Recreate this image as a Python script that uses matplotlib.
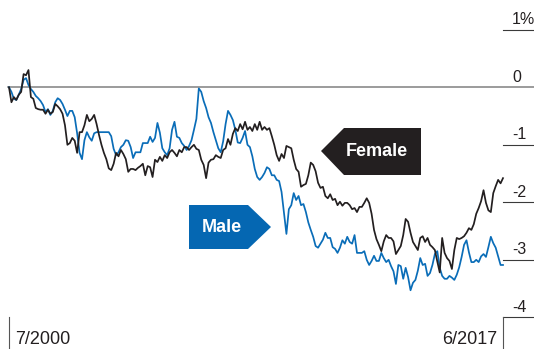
import numpy as np
import matplotlib
matplotlib.use("Agg")
import matplotlib.pyplot as plt
import matplotlib.transforms as mtransforms
from matplotlib.patches import Polygon

# Odchylenie (w pp.) – miesięcznie od 7/2000 do 6/2017
female = [
    0.00, -0.26, -0.17, -0.22, -0.13, -0.08, 0.23, 0.21, 0.30, -0.17,
    -0.20, -0.36, -0.38, -0.39, -0.39, -0.46, -0.39, -0.46, -0.43, -0.29,
    -0.33, -0.38, -0.46, -0.66, -1.00, -0.97, -0.88, -0.93, -1.14, -0.78,
    -0.78, -0.66, -0.48, -0.59, -0.55, -0.48, -0.64, -0.83, -1.00, -1.14,
    -1.25, -1.41, -1.44, -1.33, -1.14, -1.20, -1.09, -1.16, -1.25, -1.47,
    -1.42, -1.42, -1.44, -1.40, -1.37, -1.33, -1.53, -1.37, -1.39, -1.56,
    -1.26, -1.30, -1.21, -1.28, -1.18, -1.23, -1.13, -1.09, -1.14, -1.20,
    -1.09, -1.13, -1.04, -1.04, -1.09, -1.04, -1.00, -1.07, -1.09, -1.26,
    -1.35, -1.58, -1.31, -1.26, -1.25, -1.18, -1.21, -1.23, -1.09, -1.06,
    -0.90, -1.00, -0.81, -0.71, -0.76, -0.64, -0.73, -0.60, -0.74, -0.69,
    -0.76, -0.64, -0.74, -0.60, -0.74, -0.69, -0.74, -0.71, -0.85, -1.00,
    -1.18, -1.28, -1.16, -1.23, -1.02, -1.04, -1.06, -1.26, -1.42, -1.47,
    -1.73, -1.70, -1.68, -1.53, -1.31, -1.35, -1.46, -1.66, -1.75, -1.73,
    -1.89, -1.93, -1.86, -1.96, -1.94, -2.05, -1.99, -2.06, -2.01, -2.01,
    -2.05, -2.12, -2.10, -2.17, -2.08, -2.08, -2.01, -1.93, -2.01, -2.20,
    -2.48, -2.64, -2.74, -2.85, -2.68, -2.57, -2.62, -2.62, -2.68, -2.90,
    -2.83, -2.76, -2.57, -2.29, -2.34, -2.53, -2.69, -2.76, -2.83, -2.62,
    -2.59, -2.69, -2.62, -2.74, -2.78, -2.83, -3.03, -3.22, -2.62, -2.88,
    -2.97, -3.02, -3.16, -2.83, -2.62, -2.64, -2.62, -2.59, -2.53, -2.45,
    -2.48, -2.38, -2.20, -2.10, -1.98, -1.79, -2.01, -2.14, -2.17, -1.84,
    -1.72, -1.61, -1.67, -1.58,
]

male = [
    0.00, -0.08, -0.20, -0.22, -0.13, -0.03, 0.13, 0.16, 0.04, -0.03,
    -0.08, -0.15, -0.19, -0.24, -0.31, -0.43, -0.38, -0.48, -0.41, -0.26,
    -0.19, -0.22, -0.29, -0.39, -0.50, -0.41, -0.41, -0.52, -0.80, -1.14,
    -1.25, -0.92, -0.78, -0.87, -0.93, -0.80, -0.78, -0.78, -0.78, -0.78,
    -0.78, -0.78, -0.85, -1.07, -1.18, -1.13, -1.04, -1.00, -0.92, -0.93,
    -1.04, -1.23, -1.13, -1.13, -1.13, -0.97, -0.97, -0.97, -0.86, -0.95,
    -0.88, -0.62, -0.79, -1.06, -1.13, -1.18, -1.06, -0.74, -0.60, -0.86,
    -0.88, -0.97, -1.02, -1.09, -1.02, -0.92, -0.74, -0.55, -0.02, -0.08,
    -0.24, -0.36, -0.52, -0.62, -0.78, -0.92, -1.06, -1.13, -0.94, -0.64,
    -0.41, -0.48, -0.57, -0.74, -0.96, -0.97, -0.88, -0.76, -1.00, -1.04,
    -1.20, -1.42, -1.56, -1.61, -1.56, -1.49, -1.39, -1.42, -1.53, -1.53,
    -1.61, -1.63, -1.82, -2.19, -2.55, -2.12, -2.05, -1.84, -1.96, -1.89,
    -2.05, -2.03, -2.17, -2.35, -2.48, -2.60, -2.76, -2.79, -2.72, -2.65,
    -2.53, -2.62, -2.62, -2.78, -2.81, -2.88, -2.79, -2.66, -2.72, -2.60,
    -2.69, -2.72, -2.57, -2.88, -2.88, -2.88, -2.85, -3.00, -3.09, -3.02,
    -2.93, -3.02, -3.02, -2.88, -2.97, -3.04, -3.00, -3.11, -3.20, -3.42,
    -3.09, -3.11, -3.33, -3.14, -3.30, -3.53, -3.40, -3.35, -3.19, -2.97,
    -3.09, -3.07, -3.28, -3.23, -3.09, -2.90, -2.85, -3.14, -3.28, -3.33,
    -3.33, -3.28, -3.31, -3.35, -3.26, -3.13, -2.95, -2.74, -2.66, -2.87,
    -3.04, -3.04, -3.00, -3.04, -2.94, -2.90, -2.95, -2.78, -2.60, -2.71,
    -2.79, -2.94, -3.09, -3.09,
]

y_ticks = [1, 0, -1, -2, -3, -4]
y_labels = ["1%", "0", "-1", "-2", "-3", "-4"]
x_labels = ["7/2000", "6/2017"]

BLACK = "#231f20"
BLUE = "#0a6db8"
BLUE_BOX = "#0567b2"

plt.rcParams["font.family"] = ["Liberation Sans", "DejaVu Sans"]

W, H = 534, 349
fig = plt.figure(figsize=(W / 100, H / 100), dpi=100)
ax = fig.add_axes([0, 0, 1, 1])
ax.set_axis_off()

n = len(female)
x = np.arange(n)
# skala: ~2.43 px na miesiąc, ~57.5 px na 1 pp.
px_month = 2.4335
px_unit = 57.5
x0_px, y0_px = 9, 87.3
ax.set_xlim(-x0_px / px_month, (W - x0_px) / px_month)
ax.set_ylim((y0_px - H) / px_unit, y0_px / px_unit)
ymin = ax.get_ylim()[0]
xmax = ax.get_xlim()[1]

# linia zera
ax.plot([-0.4, xmax], [0, 0], color="#8a8a8a", lw=1.2, zorder=1)

ax.plot(x, male, color=BLUE, lw=1.25, zorder=3)
ax.plot(x, female, color=BLACK, lw=1.25, zorder=4)

# podziałka po prawej
for t, lab in zip(y_ticks, y_labels):
    if t != 0:
        ax.plot([n - 1, xmax], [t, t], color="#3a3a3a", lw=0.8, zorder=2)
    ax.annotate(lab, xy=(n - 1, t), xytext=(6.5, 4), textcoords="offset points",
                ha="left", va="baseline", fontsize=11.5, color="#231f20")

# pionowe kreski na dole
ax.plot([0, 0], [y_ticks[-1], ymin], color="#555555", lw=0.8)
ax.plot([n - 1, n - 1], [y_ticks[-1], ymin], color="#555555", lw=0.8)
ax.annotate(x_labels[0], xy=(0, ymin), xytext=(4.5, 0.5), textcoords="offset points",
            ha="left", va="bottom", fontsize=13, color="#231f20")
ax.annotate(x_labels[1], xy=(n - 1, ymin), xytext=(-4, 0.5), textcoords="offset points",
            ha="right", va="bottom", fontsize=13, color="#231f20")

# etykiety w kształcie strzałek (piksele od lewego górnego rogu)
px = mtransforms.Affine2D().scale(1 / W, -1 / H).translate(0, 1) + fig.transFigure

female_tag = [(321, 151), (344, 128), (421, 128), (421, 175), (344, 175)]
male_tag = [(189, 205), (248, 205), (271, 227), (248, 249), (189, 249)]
ax.add_patch(Polygon(female_tag, closed=True, transform=px, facecolor=BLACK,
                     edgecolor="none", zorder=5))
ax.add_patch(Polygon(male_tag, closed=True, transform=px, facecolor=BLUE_BOX,
                     edgecolor="none", zorder=5))
ax.text(377, 152, "Female", transform=px, ha="center", va="center", color="white",
        fontsize=13, fontweight="bold", zorder=6)
ax.text(222, 228, "Male", transform=px, ha="center", va="center", color="white",
        fontsize=13, fontweight="bold", zorder=6)

fig.savefig("out.png", dpi=100)
